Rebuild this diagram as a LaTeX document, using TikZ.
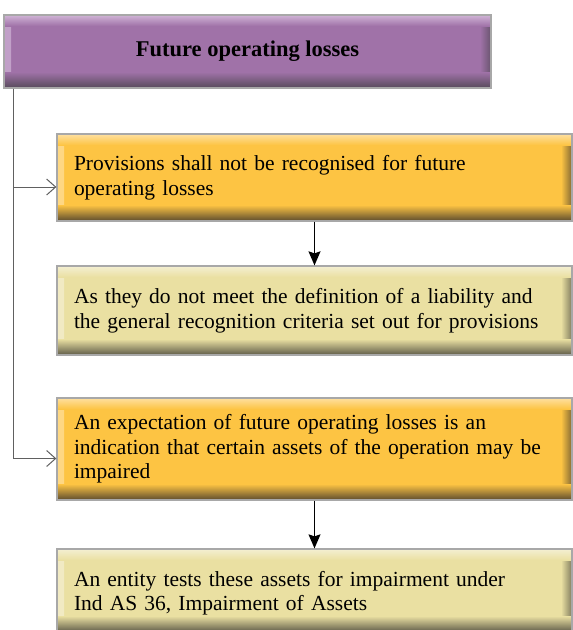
\documentclass[tikz,border=0pt]{standalone}
\usepackage{fontspec}
\setmainfont{Liberation Serif}
\usetikzlibrary{arrows.meta}
\definecolor{purpbase}{HTML}{A072A8}
\definecolor{purplight}{HTML}{D0B4D6}
\definecolor{purpdark}{HTML}{574A5B}
\definecolor{orbase}{HTML}{FDC443}
\definecolor{orlight}{HTML}{FEE0A0}
\definecolor{ordark}{HTML}{5C4B2E}
\definecolor{pabase}{HTML}{EAE0A2}
\definecolor{palight}{HTML}{F4EFD2}
\definecolor{padark}{HTML}{5E5B48}
\definecolor{boxedge}{HTML}{A8A8A8}
\definecolor{trunkcol}{HTML}{606060}
\begin{document}
\begin{tikzpicture}[x=1pt,y=-1pt,
  bevel/.style n args={3}{draw=boxedge, line width=1.3pt, fill=#1,
    path picture={
      \shade[left color=#3!70!#1, right color=#1] (path picture bounding box.north west) rectangle ([xshift=7pt]path picture bounding box.south west);
      \shade[left color=#1, right color=#2!75!#1] ([xshift=-11pt]path picture bounding box.north east) rectangle (path picture bounding box.south east);
      \shade[top color=#3, bottom color=#1] (path picture bounding box.north west) rectangle ([yshift=-11pt]path picture bounding box.north east);
      \shade[top color=#1, bottom color=#2] ([yshift=16pt]path picture bounding box.south west) rectangle (path picture bounding box.south east);
    }},
  textbox/.style={minimum width=515pt, text width=481pt, inner xsep=17pt, inner ysep=0pt,
    align=left, font=\fontsize{21.5}{24.5}\selectfont},
  orbox/.style={bevel={orbase}{ordark}{orlight}, textbox},
  pabox/.style={bevel={pabase}{padark}{palight}, textbox},
  conn/.style={draw=trunkcol, line width=1pt, -{Straight Barb[length=9pt,width=16pt,line width=1pt]}},
  downarrow/.style={draw=black, line width=1.2pt, -{Stealth[length=14pt,width=12pt,inset=2pt]}}
]
\useasboundingbox (0,0) rectangle (573,630);
\node[bevel={purpbase}{purpdark}{purplight}, minimum width=487pt, minimum height=73pt, inner sep=0pt,
  font=\bfseries\fontsize{22.5}{26}\selectfont] (head) at (247.5,51.5) {Future operating losses};
\node[orbox, minimum height=87pt] (b1) at (314.5,177.5) {Provisions shall not be recognised for future\\operating losses};
\node[pabox, minimum height=89pt] (b2) at (314.5,310.5) {As they do not meet the definition of a liability and\\the general recognition criteria set out for provisions};
\node[orbox, minimum height=102pt] (b3) at (314.5,449) {An expectation of future operating losses is an\\indication that certain assets of the operation may be\\impaired};
\node[pabox, minimum height=83pt, text depth=24pt] (b4) at (314.5,590.5) {An entity tests these assets for impairment under\\Ind AS 36, Impairment of Assets};
\coordinate (trunk) at ([xshift=10pt]head.south west);
\coordinate (a1) at ([yshift=-9.5pt]b1.west);
\coordinate (a3) at ([yshift=-9.5pt]b3.west);
\draw[conn] (trunk) |- (a3);
\draw[conn] (trunk |- a1) -- (a1);
\draw[downarrow] (b1.south) -- (b2.north);
\draw[downarrow] (b3.south) -- (b4.north);
\end{tikzpicture}
\end{document}
